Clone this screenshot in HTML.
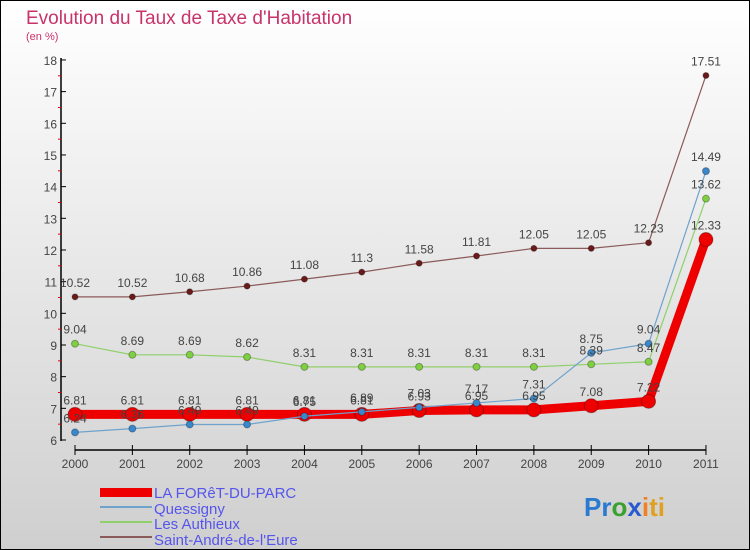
<!DOCTYPE html>
<html><head><meta charset="utf-8"><style>
body{margin:0}
#c{width:750px;height:550px;position:relative;background:linear-gradient(#ffffff,#cfcfcf);box-sizing:border-box;border:1px solid #000;font-family:"Liberation Sans",sans-serif;overflow:hidden}
</style></head><body>
<div id="c">
<svg id="s" width="750" height="550" style="position:absolute;left:-1px;top:-1px">
<text x="26" y="24" font-size="19" fill="#c8336a">Evolution du Taux de Taxe d'Habitation</text>
<text x="26" y="40" font-size="11" fill="#c8336a">(en %)</text>
<g id="ax"></g><g id="series"></g><g id="labels"></g>
<g font-size="15" fill="#5555ee">
<rect x="100" y="488" width="52" height="9" fill="#ee0000"/>
<text x="154" y="498">LA FORêT-DU-PARC</text>
<rect x="100" y="506" width="52" height="2" fill="#6fa3cc"/>
<text x="154" y="514">Quessigny</text>
<rect x="100" y="521" width="52" height="2" fill="#8fd06a"/>
<text x="154" y="529">Les Authieux</text>
<rect x="100" y="536" width="52" height="2" fill="#8b5a5a"/>
<text x="154" y="545">Saint-André-de-l'Eure</text>
</g>
<text x="584" y="516" font-size="26" font-weight="bold"><tspan fill="#2a7ad0">Pr</tspan><tspan fill="#3aa030">o</tspan><tspan fill="#2a5ad0">x</tspan><tspan fill="#f08020">i</tspan><tspan fill="#e0a020">ti</tspan></text>
</svg>
</div>
<script>
const years=[2000,2001,2002,2003,2004,2005,2006,2007,2008,2009,2010,2011];
const foret=[6.81,6.81,6.81,6.81,6.81,6.81,6.93,6.95,6.95,7.08,7.22,12.33];
const quessigny=[6.24,6.36,6.49,6.49,6.75,6.89,7.03,7.17,7.31,8.75,9.04,14.49];
const authieux=[9.04,8.69,8.69,8.62,8.31,8.31,8.31,8.31,8.31,8.39,8.47,13.62];
const andre=[10.52,10.52,10.68,10.86,11.08,11.3,11.58,11.81,12.05,12.05,12.23,17.51];
const yTicks=[6,7,8,9,10,11,12,13,14,15,16,17,18];
const NS='http://www.w3.org/2000/svg';
const X=i=>75+i*57.36, Y=v=>440-(v-6)*31.67;
function mk(t,a,p){const e=document.createElementNS(NS,t);for(const k in a)e.setAttribute(k,a[k]);p.appendChild(e);return e;}
const ax=document.getElementById('ax');
let e=mk('line',{x1:61,y1:58,x2:61,y2:441,stroke:'#000','stroke-width':1.5},ax);


e=mk('line',{x1:75,y1:450,x2:706,y2:450,stroke:'#000','stroke-width':1.5},ax);


yTicks.forEach(v=>{
 mk('line',{x1:61,y1:Y(v),x2:66,y2:Y(v),stroke:'#000'},ax);
 if(v<18)mk('line',{x1:58,y1:Y(v+0.5),x2:61,y2:Y(v+0.5),stroke:'#e00'},ax);
 const t=mk('text',{x:57,y:Y(v)+5,'text-anchor':'end','font-size':12,fill:'#444'},ax);t.textContent=v;
 
 
});
years.forEach((y,i)=>{
 mk('line',{x1:X(i),y1:445,x2:X(i),y2:455,stroke:'#000'},ax);
 const t=mk('text',{x:X(i),y:468,'text-anchor':'middle','font-size':12,fill:'#444'},ax);t.textContent=y;
 
 
});
const S=document.getElementById('series'),L=document.getElementById('labels');
function draw(d,col,dot,w,r,name){
 const g=mk('g',{},S);
 
 
 mk('polyline',{points:d.map((v,i)=>X(i)+','+Y(v)).join(' '),fill:'none',stroke:col,'stroke-width':w},g);
 d.forEach((v,i)=>{
  const c=mk('circle',{cx:X(i),cy:Y(v),r:r,fill:dot,stroke:'rgba(0,0,0,0.3)'},g);
  
  
  const t=mk('text',{x:X(i),y:Y(v)-10,'text-anchor':'middle','font-size':12,fill:'#444'},L);t.textContent=v;
  
  
 });
}
draw(andre,'#8b5a5a','#6b1a1a',1.2,3,'saint-andre-series');
draw(authieux,'#8fd06a','#7ed040',1.2,3.5,'authieux-series');
draw(foret,'#ee0000','#ee0000',9,7,'la-foret-series');
draw(quessigny,'#6fa3cc','#3a88cc',1.2,3.5,'quessigny-series');
</script>
</body></html>
